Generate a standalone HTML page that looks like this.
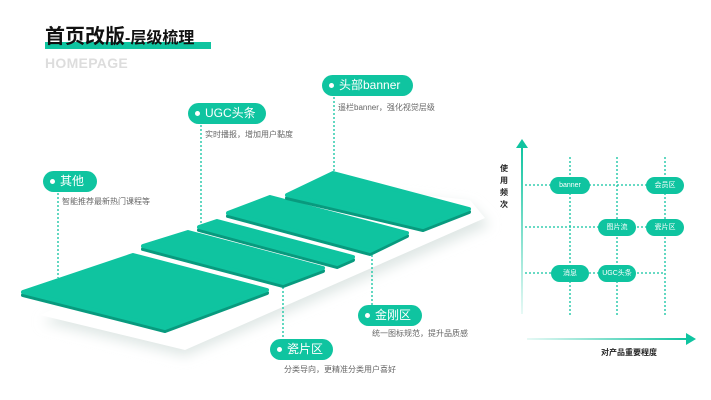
<!DOCTYPE html>
<html><head><meta charset="utf-8"><style>
body{margin:0;width:711px;height:400px;background:#fff;overflow:hidden;font-family:"Liberation Sans","Noto Sans CJK SC",sans-serif;position:relative}
.a{position:absolute}
.pill{position:absolute;background:#0fc4a0;color:#fff;border-radius:12px;font-size:12px;line-height:21px;height:21px;box-sizing:border-box;padding-left:17px}
.pill:before{content:"";position:absolute;left:7px;top:8px;width:5px;height:5px;border-radius:50%;background:#fff}
.d{font-size:8px;color:#666;position:absolute;white-space:nowrap}
.sp{position:absolute;background:#0fc4a0;color:#fff;font-size:7px;text-align:center;border-radius:9px;height:17px;line-height:17px}
</style></head><body>
<div class="a" style="left:45px;top:42px;width:166px;height:7px;background:#0fc4a0"></div>
<div class="a" style="left:45px;top:24px;font-size:20px;font-weight:bold;color:#111;line-height:26px">首页改版<span style="font-size:16px">-层级梳理</span></div>
<div class="a" style="left:45px;top:55px;font-size:14px;color:#ddd;font-weight:bold;letter-spacing:0.3px">HOMEPAGE</div>

<svg class="a" style="left:0;top:0" width="711" height="400">
<defs>
<filter id="sh" x="-20%" y="-20%" width="140%" height="160%"><feGaussianBlur stdDeviation="6"/></filter>
<linearGradient id="xg" x1="0" x2="1"><stop offset="0" stop-color="#0fc4a0" stop-opacity="0.1"/><stop offset="1" stop-color="#0fc4a0"/></linearGradient>
<linearGradient id="yg" x1="0" y1="1" x2="0" y2="0"><stop offset="0" stop-color="#0fc4a0" stop-opacity="0.1"/><stop offset="1" stop-color="#0fc4a0"/></linearGradient>
</defs>
<polygon points="42,322 185,356 490,225 470,205 330,190" fill="#dfe7e5" filter="url(#sh)"/>
<polygon points="40,315 185,350 485,218 470,200 330,185" fill="#fff"/>
<g stroke="#0fc4a0" stroke-width="1.3" stroke-dasharray="2,2" fill="none">
<line x1="58" y1="193" x2="58" y2="278"/>
<line x1="201" y1="125" x2="201" y2="227"/>
<line x1="334" y1="97" x2="334" y2="175"/>
<line x1="372" y1="251" x2="372" y2="305"/>
<line x1="283" y1="283" x2="283" y2="339"/>
</g>
<g stroke-linejoin="round" stroke-width="4">
<polygon points="23,295 133,258 267,293 165,331" fill="#089a7e" stroke="#089a7e"/>
<polygon points="23,292 133,255 267,290 165,328" fill="#0fc4a0" stroke="#0fc4a0"/>
<polygon points="143,249 188,235 323,271 283,286" fill="#089a7e" stroke="#089a7e"/>
<polygon points="143,246 188,232 323,268 283,283" fill="#0fc4a0" stroke="#0fc4a0"/>
<polygon points="199,230 217,224 353,260 337,267" fill="#089a7e" stroke="#089a7e"/>
<polygon points="199,227 217,221 353,257 337,264" fill="#0fc4a0" stroke="#0fc4a0"/>
<polygon points="228,216 270,200 407,236 370,254" fill="#089a7e" stroke="#089a7e"/>
<polygon points="228,213 270,197 407,233 370,251" fill="#0fc4a0" stroke="#0fc4a0"/>
<polygon points="287,198 333,176 469,212 423,230" fill="#089a7e" stroke="#089a7e"/>
<polygon points="287,195 333,173 469,209 423,227" fill="#0fc4a0" stroke="#0fc4a0"/>
</g>
<!-- chart -->
<g stroke="#0fc4a0" stroke-width="1.3" stroke-dasharray="2,2" fill="none">
<line x1="570" y1="157" x2="570" y2="316"/>
<line x1="617" y1="157" x2="617" y2="316"/>
<line x1="665" y1="157" x2="665" y2="316"/>
<line x1="525" y1="185" x2="665" y2="185"/>
<line x1="525" y1="227" x2="665" y2="227"/>
<line x1="525" y1="273" x2="665" y2="273"/>
</g>
<rect x="521" y="146" width="2" height="168" fill="url(#yg)"/>
<polygon points="516,148 522,139 528,148" fill="#0fc4a0"/>
<rect x="527" y="338" width="160" height="2" fill="url(#xg)"/>
<polygon points="686,333 696,339 686,345" fill="#0fc4a0"/>
</svg>

<div class="pill" style="left:322px;top:75px;width:91px">头部banner</div>
<div class="d" style="left:338px;top:102px">遥栏banner，强化视觉层级</div>
<div class="pill" style="left:188px;top:103px;width:78px">UGC头条</div>
<div class="d" style="left:205px;top:129px">实时播报，增加用户黏度</div>
<div class="pill" style="left:43px;top:171px;width:54px">其他</div>
<div class="d" style="left:62px;top:196px">智能推荐最新热门课程等</div>
<div class="pill" style="left:358px;top:305px;width:64px">金刚区</div>
<div class="d" style="left:372px;top:328px">统一图标规范，提升品质感</div>
<div class="pill" style="left:270px;top:339px;width:63px">瓷片区</div>
<div class="d" style="left:284px;top:364px">分类导向，更精准分类用户喜好</div>

<div class="a" style="left:500px;top:163px;width:10px;font-size:8px;line-height:12px;color:#222;font-weight:bold">使用频次</div>
<div class="a" style="left:601px;top:347px;font-size:8px;color:#222;font-weight:bold">对产品重要程度</div>
<div class="sp" style="left:550px;top:177px;width:40px">banner</div>
<div class="sp" style="left:646px;top:177px;width:38px">会员区</div>
<div class="sp" style="left:598px;top:219px;width:38px">图片流</div>
<div class="sp" style="left:646px;top:219px;width:38px">瓷片区</div>
<div class="sp" style="left:551px;top:265px;width:38px">消息</div>
<div class="sp" style="left:598px;top:265px;width:38px">UGC头条</div>
</body></html>
